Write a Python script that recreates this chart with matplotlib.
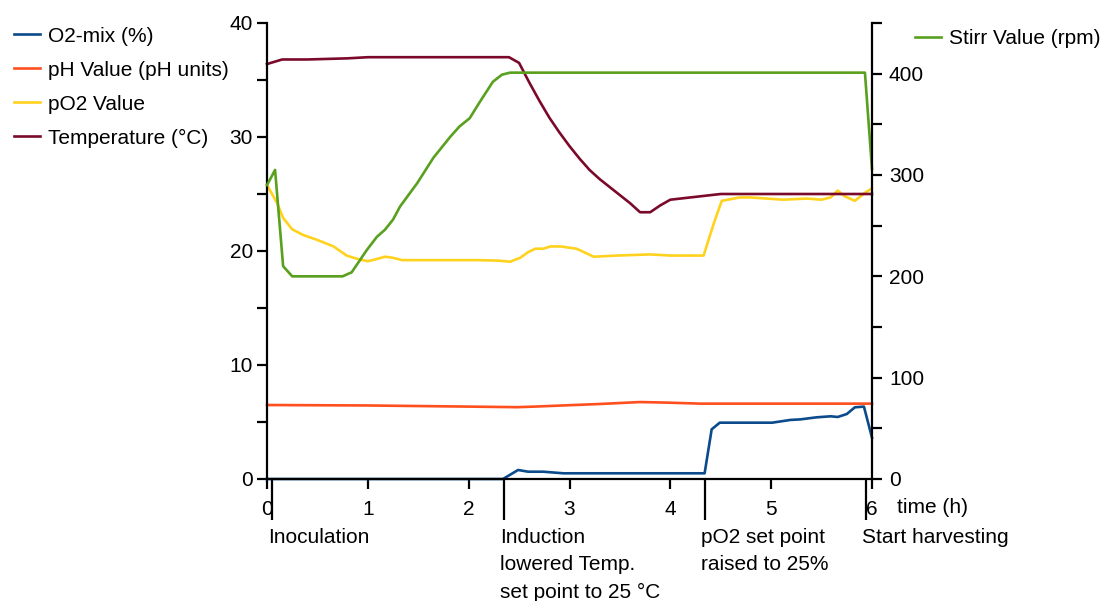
import matplotlib
matplotlib.use("Agg")
import matplotlib.pyplot as plt
import matplotlib.transforms as mtransforms

plt.rcParams['font.family'] = ['Liberation Sans', 'DejaVu Sans']
plt.rcParams['font.size'] = 15

# ---------------- data ----------------
t_temp = [0, 0.15, 0.4, 0.8, 1.0, 1.5, 2.0, 2.4, 2.5, 2.6, 2.7, 2.8, 2.9, 3.0, 3.1, 3.2,
          3.3, 3.4, 3.5, 3.6, 3.7, 3.8, 3.9, 4.0, 4.1, 4.2, 4.3, 4.4, 4.5, 5.0, 5.5, 6.0]
temp = [36.4, 36.8, 36.8, 36.9, 37.0, 37.0, 37.0, 37.0, 36.5, 34.8, 33.2, 31.7, 30.4, 29.2, 28.1, 27.1,
        26.3, 25.6, 24.9, 24.2, 23.4, 23.4, 24.0, 24.5, 24.6, 24.7, 24.8, 24.9, 25.0, 25.0, 25.0, 25.0]

t_stirr = [0, 0.08, 0.16, 0.25, 0.75, 0.84, 0.99, 1.09, 1.17, 1.25, 1.32, 1.49, 1.65, 1.82,
           1.91, 2.01, 2.11, 2.24, 2.33, 2.41, 3.0, 4.0, 5.0, 5.93, 6.0]
stirr = [290, 305, 210, 200, 200, 204, 226, 239, 246, 256, 269, 292, 317, 338,
         348, 356, 372, 392, 399, 401, 401, 401, 401, 401, 306]

t_po2 = [0, 0.1, 0.16, 0.25, 0.36, 0.49, 0.66, 0.79, 0.9, 1.0, 1.09, 1.17, 1.25, 1.34, 1.6, 1.9,
         2.1, 2.3, 2.41, 2.51, 2.59, 2.66, 2.74, 2.81, 2.91, 3.07, 3.24, 3.47, 3.8, 4.0, 4.33,
         4.43, 4.51, 4.69, 4.79, 5.12, 5.35, 5.5, 5.59, 5.66, 5.73, 5.83, 5.93, 6.0]
po2 = [25.8, 24.2, 22.9, 21.9, 21.4, 21.0, 20.4, 19.6, 19.3, 19.1, 19.3, 19.5, 19.4, 19.2, 19.2, 19.2,
       19.2, 19.15, 19.06, 19.4, 19.9, 20.2, 20.2, 20.4, 20.4, 20.2, 19.5, 19.6, 19.7, 19.6, 19.6,
       22.4, 24.4, 24.7, 24.7, 24.5, 24.6, 24.5, 24.7, 25.3, 24.8, 24.4, 25.1, 25.5]

t_ph = [0, 1.0, 2.0, 2.48, 2.65, 3.3, 3.7, 3.97, 4.3, 5.0, 6.0]
ph = [6.49, 6.45, 6.35, 6.3, 6.35, 6.58, 6.75, 6.7, 6.61, 6.61, 6.61]

t_o2 = [0, 2.34, 2.49, 2.59, 2.74, 2.94, 4.34, 4.41, 4.49, 5.01, 5.19, 5.29, 5.45, 5.59,
        5.66, 5.75, 5.83, 5.92, 6.0]
o2 = [0, 0, 0.79, 0.64, 0.64, 0.5, 0.5, 4.36, 4.94, 4.94, 5.18, 5.23, 5.41, 5.5,
      5.44, 5.7, 6.29, 6.35, 3.62]

event_times = [0.05, 2.35, 4.34, 5.94]
event_labels = ["Inoculation", "Induction\nlowered Temp.\nset point to 25 °C",
                "pO2 set point\nraised to 25%", "Start harvesting"]

x_ticks = [0, 1, 2, 3, 4, 5, 6]
left_major = [0, 10, 20, 30, 40]
left_minor = [5, 15, 25, 35]
right_major = [0, 100, 200, 300, 400]
right_minor = [50, 150, 250, 350, 450]

c_o2 = '#0b4a8b'
c_ph = '#ff4f1e'
c_po2 = '#ffd21e'
c_temp = '#7b0a2a'
c_stirr = '#58a01e'

# ---------------- figure ----------------
W, H = 1105, 601
fig = plt.figure(figsize=(W / 100, H / 100), dpi=100)
x0, x1, yb, yt = 267, 872, 479, 23
ax = fig.add_axes([x0 / W, 1 - yb / H, (x1 - x0) / W, (yb - yt) / H])
ax2 = ax.twinx()

lw = 1.9
l_o2, = ax.plot(t_o2, o2, color=c_o2, lw=lw, label='O2-mix (%)', clip_on=False)
l_ph, = ax.plot(t_ph, ph, color=c_ph, lw=lw, label='pH Value (pH units)', clip_on=False)
l_po2, = ax.plot(t_po2, po2, color=c_po2, lw=lw, label='pO2 Value', clip_on=False)
l_temp, = ax.plot(t_temp, temp, color=c_temp, lw=lw, label='Temperature (°C)', clip_on=False)
l_stirr, = ax2.plot(t_stirr, stirr, color=c_stirr, lw=lw, label='Stirr Value (rpm)', clip_on=False)

ax.set_xlim(0, 6)
ax.set_ylim(0, 40)
ax2.set_ylim(0, 450)

for a in (ax, ax2):
    a.spines['top'].set_visible(False)
    for s in a.spines.values():
        s.set_linewidth(1.6)
    a.patch.set_visible(False)

ax.spines['right'].set_visible(False)
ax2.spines['left'].set_visible(False)
ax2.spines['bottom'].set_visible(False)

ax.set_xticks(x_ticks)
ax.set_yticks(left_major)
ax.set_yticks(left_minor, minor=True)
ax2.set_yticks(right_major)
ax2.set_yticks(right_minor, minor=True)

ax.tick_params(axis='both', which='both', direction='out', length=7.2, width=1.6, labelsize=15)
ax.tick_params(axis='y', pad=3)
ax.tick_params(axis='x', pad=8)
ax2.tick_params(axis='y', which='both', direction='out', length=7.2, width=1.6, labelsize=15, pad=5)
ax.tick_params(axis='x', which='minor', bottom=False)

ax.text(1.041, -0.063, 'time (h)', transform=ax.transAxes, ha='left', va='center', fontsize=15)

# event markers below the axis
trans = mtransforms.blended_transform_factory(ax.transData, ax.transAxes)
for t, lab in zip(event_times, event_labels):
    ax.plot([t, t], [0, -0.09], transform=trans, color='black', lw=1.6, clip_on=False,
            solid_capstyle='butt')
    ax.text(t - 0.035, -0.108, lab, transform=trans, ha='left', va='top', fontsize=15,
            linespacing=1.55)

# legends
fig.legend(handles=[l_o2, l_ph, l_po2, l_temp], loc='upper left',
           bbox_to_anchor=(14 / W, 1 - 26.5 / H), frameon=False, fontsize=15,
           handlelength=1.25, handletextpad=0.4, labelspacing=0.72, borderpad=0,
           borderaxespad=0)
fig.legend(handles=[l_stirr], loc='upper left',
           bbox_to_anchor=(915 / W, 1 - 29 / H), frameon=False, fontsize=15,
           handlelength=1.25, handletextpad=0.4, borderpad=0, borderaxespad=0)

fig.savefig('out.png', dpi=100)
